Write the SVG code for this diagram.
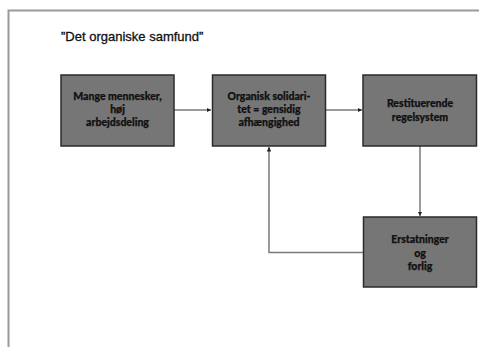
<svg xmlns="http://www.w3.org/2000/svg" width="479" height="347" viewBox="0 0 479 347">
<style>
.box{fill:#767676;stroke:#2b2b2b;stroke-width:1.5}
.lbl{font-family:Lato,"Liberation Sans",sans-serif;font-weight:900;font-size:10.5px;fill:#111;stroke:#111;stroke-width:0.25;text-anchor:middle}
.con{fill:none;stroke:#7a7a7a;stroke-width:1.5}
.frame{fill:none;stroke:#999;stroke-width:2}
</style>
<defs>
<marker id="ah" viewBox="0 0 6 6" refX="6" refY="3" markerWidth="3" markerHeight="3" orient="auto" markerUnits="strokeWidth">
<path d="M0,0 L6,3 L0,6 z" fill="#222"/>
</marker>
</defs>
<rect width="479" height="347" fill="#fff"/>
<path class="frame" d="M8.5,347 V10.5 H479"/>
<text x="61" y="41" font-family="'Liberation Sans',Arial,sans-serif" font-size="13" fill="#111" stroke="#111" stroke-width="0.3">”Det organiske samfund”</text>
<g id="connectors">
<path class="con" d="M174,110 H211" marker-end="url(#ah)"/>
<path class="con" d="M326,110 H362" marker-end="url(#ah)"/>
<path class="con" d="M420,146 V216" marker-end="url(#ah)"/>
<path class="con" d="M363,252.5 H269 V147" marker-end="url(#ah)"/>
</g>
<g id="n1">
<rect class="box" x="61" y="75" width="113" height="71"/>
<text class="lbl" x="117.5" y="100">Mange mennesker,</text>
<text class="lbl" x="117.5" y="113">høj</text>
<text class="lbl" x="117.5" y="126">arbejdsdeling</text>
</g>
<g id="n2">
<rect class="box" x="212.5" y="75" width="113" height="71"/>
<text class="lbl" x="269" y="100">Organisk solidari-</text>
<text class="lbl" x="269" y="113">tet = gensidig</text>
<text class="lbl" x="269" y="126">afhængighed</text>
</g>
<g id="n3">
<rect class="box" x="363" y="75" width="113.5" height="71"/>
<text class="lbl" x="420" y="106.5">Restituerende</text>
<text class="lbl" x="420" y="120.5">regelsystem</text>
</g>
<g id="n4">
<rect class="box" x="363.5" y="217" width="113" height="70"/>
<text class="lbl" x="420" y="243">Erstatninger</text>
<text class="lbl" x="420" y="256.5">og</text>
<text class="lbl" x="420" y="270">forlig</text>
</g>
</svg>
